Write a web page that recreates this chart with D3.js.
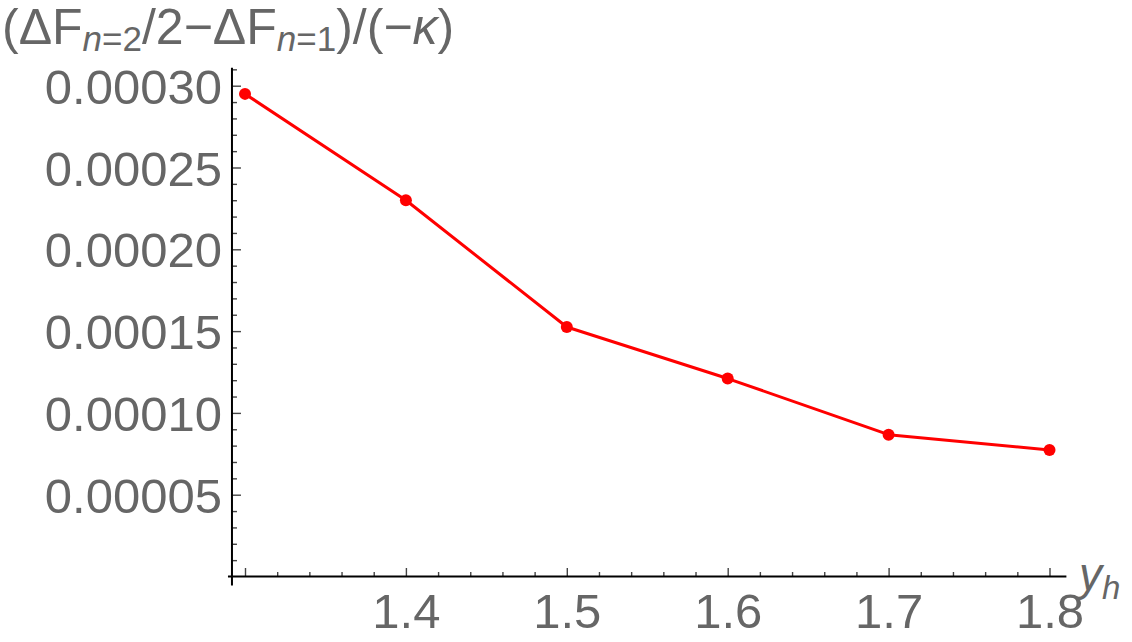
<!DOCTYPE html>
<html>
<head>
<meta charset="utf-8">
<script src="https://cdn.jsdelivr.net/npm/d3@7"></script>
<style>
  body { margin: 0; background: #fff; }
  svg { display: block; }
  text { font-family: "Liberation Sans", Arial, sans-serif; fill: #666; }
</style>
</head>
<body>
<svg class="chart"></svg>
<script>
// data
var yh = [1.3, 1.4, 1.5, 1.6, 1.7, 1.8];
var dF = [0.000295, 0.000230, 0.0001525, 0.000121, 0.0000867, 0.0000773];
var xTickLabels = [1.4, 1.5, 1.6, 1.7, 1.8];
var xMajorTicks = [1.3, 1.4, 1.5, 1.6, 1.7, 1.8];
var yTickLabels = [0.00005, 0.00010, 0.00015, 0.00020, 0.00025, 0.00030];

var width = 1132, height = 642;

var x = d3.scaleLinear().domain([1.3, 1.8]).range([245, 1049.5]);
var y = d3.scaleLinear().domain([0, 0.0003]).range([576.5, 85.7]);

var xLo = 1.2919, xHi = 1.8105, yTop = 0.000311;

var svg = d3.select(".chart")
  .attr("width", width)
  .attr("height", height);

// minor ticks
var xMinor = d3.range(0, 26).map(function(i) { return +(1.3 + i * 0.02).toFixed(2); })
  .filter(function(v) { return xMajorTicks.indexOf(v) < 0; });
var yMinor = d3.range(1, 32).map(function(i) { return i * 0.00001; })
  .filter(function(v, i) { return (i + 1) % 5 != 0; });

svg.append("g")
  .attr("transform", "translate(0," + y(0) + ")")
  .call(d3.axisBottom(x).tickValues(xMinor).tickSize(-4.5).tickFormat(""))
  .call(function(g) { g.select(".domain").remove(); });

svg.append("g")
  .attr("transform", "translate(" + x(xLo) + ",0)")
  .call(d3.axisLeft(y).tickValues(yMinor).tickSize(-5).tickFormat(""))
  .call(function(g) { g.select(".domain").remove(); });

// major ticks + labels
var xAxis = svg.append("g")
  .attr("class", "x axis")
  .attr("transform", "translate(0," + y(0) + ")")
  .call(d3.axisBottom(x).tickValues(xMajorTicks).tickSize(-8.5).tickPadding(0)
    .tickFormat(function(d) { return xTickLabels.indexOf(d) >= 0 ? d3.format(".1f")(d) : ""; }));
xAxis.select(".domain").remove();
xAxis.selectAll("text")
  .attr("y", 0)
  .attr("dy", "51px")
  .style("font-size", "49px")
  .style("fill", "#666");

var yAxis = svg.append("g")
  .attr("class", "y axis")
  .attr("transform", "translate(" + x(xLo) + ",0)")
  .call(d3.axisLeft(y).tickValues(yTickLabels).tickSize(-9).tickPadding(10)
    .tickFormat(d3.format(".5f")));
yAxis.select(".domain").remove();
yAxis.selectAll("text")
  .attr("dy", "0.36em")
  .style("font-size", "49px")
  .style("fill", "#666");

svg.selectAll(".tick line").attr("stroke", "#444").attr("stroke-width", 1.4);

// axis lines, with the little overhang at the corner
svg.append("line")
  .attr("x1", x(xLo) - 4).attr("x2", x(xHi))
  .attr("y1", y(0)).attr("y2", y(0))
  .attr("stroke", "#000").attr("stroke-width", 2);
svg.append("line")
  .attr("x1", x(xLo)).attr("x2", x(xLo))
  .attr("y1", y(yTop)).attr("y2", y(0) + 9)
  .attr("stroke", "#000").attr("stroke-width", 2);

// series
var pts = yh.map(function(d, i) { return {x: d, y: dF[i]}; });

svg.append("path")
  .datum(pts)
  .attr("fill", "none")
  .attr("stroke", "#f00")
  .attr("stroke-width", 3)
  .attr("stroke-linejoin", "round")
  .attr("d", d3.line()
    .x(function(d) { return x(d.x); })
    .y(function(d) { return y(d.y); }));

svg.selectAll(".dot")
  .data(pts)
  .enter().append("circle")
  .attr("class", "dot")
  .attr("cx", function(d) { return x(d.x); })
  .attr("cy", function(d) { return y(d.y); })
  .attr("r", 6)
  .attr("fill", "#f00");

// axis labels
var title = svg.append("text")
  .attr("x", 2)
  .attr("y", 44)
  .style("font-size", "50px");
title.append("tspan").text("(\u0394F");
title.append("tspan").attr("dy", 7).style("font-size", "35px").style("font-style", "italic").text("n");
title.append("tspan").style("font-size", "35px").text("=2");
title.append("tspan").attr("dy", -7).text("/2\u2212\u0394F");
title.append("tspan").attr("dy", 7).style("font-size", "35px").style("font-style", "italic").text("n");
title.append("tspan").style("font-size", "35px").text("=1");
title.append("tspan").attr("dy", -7).text(")/(\u2212");
title.append("tspan").style("font-style", "italic").text("\u03ba");
title.append("tspan").text(")");

var xl = svg.append("text")
  .attr("x", 1079)
  .attr("y", 590)
  .style("font-size", "46px")
  .style("font-style", "italic");
xl.append("tspan").text("y");
xl.append("tspan").attr("dy", 9).style("font-size", "33px").text("h");
</script>
</body>
</html>
